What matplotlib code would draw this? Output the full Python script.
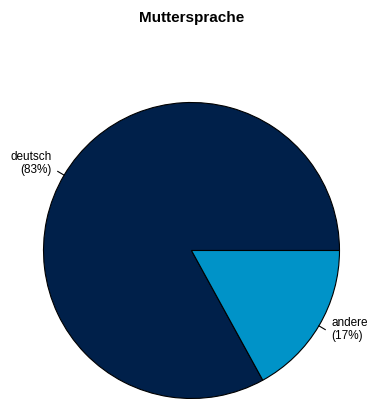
import matplotlib.pyplot as plt
import numpy as np

TITLE = "Muttersprache"
CATEGORIES = ["deutsch", "andere"]
SHARES = [83, 17]
COLORS = ["#00204A", "#0093C8"]

W, H = 369, 399
CX, CY, R = 191.5, 250.5, 148  # pie centre and radius in pixels (from top-left)


def main():
    plt.rcParams["font.family"] = ["Liberation Sans", "DejaVu Sans"]
    fig = plt.figure(figsize=(W / 100, H / 100), dpi=100)
    ax = fig.add_axes([0, 0, 1, 1])

    wedges, _ = ax.pie(
        SHARES,
        colors=COLORS,
        startangle=0,
        counterclock=True,
        radius=1,
        wedgeprops={"edgecolor": "black", "linewidth": 0.8},
    )
    ax.set_xlim(-CX / R, (W - CX) / R)
    ax.set_ylim(-(H - CY) / R, CY / R)
    ax.set_aspect("equal")
    ax.axis("off")

    # base-R style labels: short tick at the rim, text at 1.1 radius
    for w, name, share in zip(wedges, CATEGORIES, SHARES):
        mid = np.deg2rad((w.theta1 + w.theta2) / 2)
        c, s = np.cos(mid), np.sin(mid)
        ax.plot([c, 1.05 * c], [s, 1.05 * s], color="black", linewidth=0.8)
        ax.annotate(
            f"{name}\n({share}%)",
            xy=(1.1 * c, 1.1 * s), xytext=(0, 3), textcoords="offset points",
            ha="left" if c > 0 else "right", va="center",
            fontsize=8.5, linespacing=1.15,
        )

    fig.text(CX / W, 1 - 18 / H, TITLE, ha="center", va="center",
             fontsize=11, fontweight="bold")

    fig.savefig("out.png", dpi=100)
    plt.close(fig)


if __name__ == "__main__":
    main()
